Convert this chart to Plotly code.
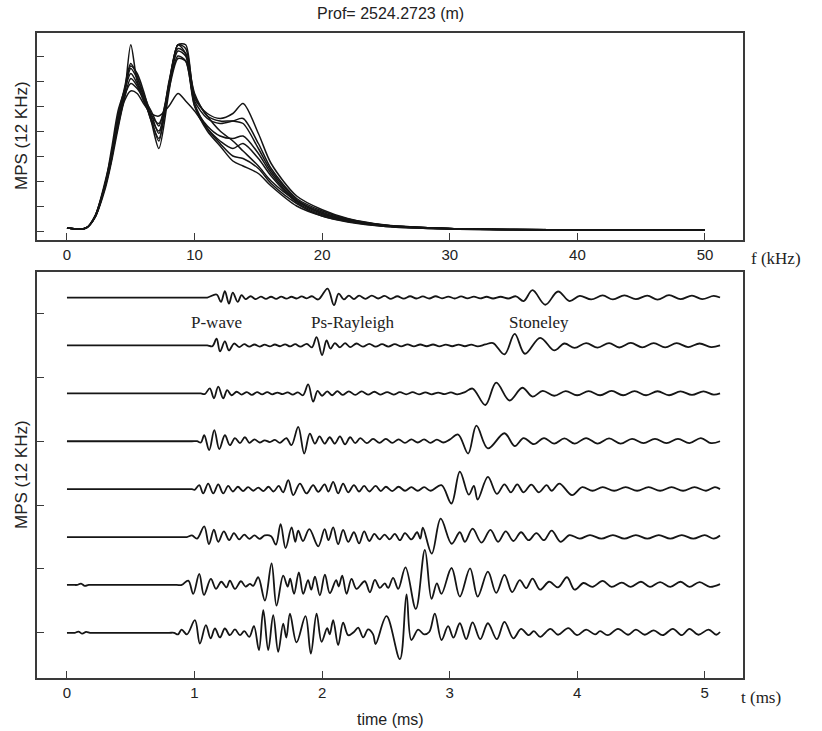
import plotly.graph_objects as go

# ---------------- data ----------------
freq_khz = [0, 1.5, 2.2, 3, 3.5, 4, 4.5, 5, 5.5, 6, 6.6, 7.2, 8, 8.7, 9.3, 10, 11, 12, 13,
            13.8, 15, 16, 18, 20, 22, 25, 30, 35, 40, 50]
spec_a = [0.12, 0.12, 0.6, 1.9, 3.0, 4.2, 5.4, 7.45, 6.0, 5.4, 4.4, 3.3, 5.6, 7.45, 7.3, 5.4, 4.6, 4.0, 3.6, 3.2, 2.6, 2.0, 1.2, 0.7, 0.45, 0.22, 0.1, 0.06, 0.05, 0.04]
spec_b = [0.12, 0.12, 0.55, 1.8, 2.9, 4.6, 5.6, 6.6, 6.3, 5.6, 4.5, 3.6, 5.9, 7.45, 7.45, 5.3, 4.7, 4.5, 4.7, 5.1, 3.9, 2.7, 1.4, 0.85, 0.5, 0.24, 0.1, 0.06, 0.05, 0.04]
spec_c = [0.12, 0.12, 0.6, 2.0, 3.1, 4.5, 5.5, 6.5, 6.1, 5.5, 4.7, 3.9, 5.8, 7.2, 7.0, 5.2, 4.5, 4.3, 4.4, 4.5, 3.5, 2.5, 1.3, 0.8, 0.48, 0.23, 0.1, 0.06, 0.05, 0.04]
spec_d = [0.12, 0.12, 0.55, 1.9, 3.3, 4.8, 5.6, 6.3, 5.9, 5.3, 4.8, 4.2, 5.9, 7.45, 7.1, 5.5, 4.6, 4.4, 4.4, 4.3, 3.3, 2.4, 1.25, 0.75, 0.45, 0.22, 0.1, 0.06, 0.05, 0.04]
spec_e = [0.12, 0.12, 0.6, 1.8, 2.9, 4.3, 5.3, 6.1, 5.8, 5.2, 4.6, 4.3, 5.7, 6.9, 6.8, 5.0, 4.2, 3.8, 3.7, 3.8, 3.1, 2.3, 1.2, 0.7, 0.42, 0.2, 0.09, 0.06, 0.05, 0.04]
spec_f = [0.12, 0.12, 0.55, 1.7, 2.8, 4.1, 5.2, 5.6, 5.5, 5.1, 4.7, 4.6, 5.0, 5.5, 5.2, 4.8, 4.1, 3.6, 3.3, 3.5, 2.9, 2.2, 1.15, 0.65, 0.4, 0.2, 0.09, 0.06, 0.05, 0.04]
spec_g = [0.12, 0.12, 0.6, 1.9, 3.0, 4.4, 5.4, 5.9, 5.7, 5.3, 4.5, 4.0, 5.8, 7.0, 6.8, 5.1, 4.1, 3.5, 3.0, 2.9, 2.5, 1.9, 1.1, 0.6, 0.38, 0.18, 0.08, 0.05, 0.04, 0.04]
spec_h = [0.12, 0.12, 0.55, 1.85, 3.1, 4.6, 5.7, 6.7, 6.2, 5.4, 4.4, 3.7, 6.0, 7.3, 7.1, 5.0, 4.0, 3.4, 2.8, 2.6, 2.3, 1.8, 1.0, 0.6, 0.36, 0.18, 0.08, 0.05, 0.04, 0.04]
spectra = [spec_a, spec_b, spec_c, spec_d, spec_e, spec_f, spec_g, spec_h]

# waveforms: (time ms, amplitude) read at extrema, top trace first
wave1 = [(0, 0), (0.3, 0), (0.6, 0), (0.9, 0), (1.05, 0), (1.10, 0), (1.173, 0.19), (1.207, -0.27), (1.238, 0.40), (1.27, -0.38), (1.30, 0.31), (1.338, -0.27),
         (1.369, 0.15), (1.40, -0.10), (1.44, 0.08), (1.48, -0.10), (1.52, 0.06), (1.56, -0.08), (1.60, 0.05), (1.64, -0.08),
         (1.68, 0.06), (1.72, -0.07), (1.76, 0.05), (1.80, -0.06), (1.84, 0.07), (1.88, -0.05), (1.92, 0.08), (1.97, -0.12),
         (2.043, 0.56), (2.093, -0.48), (2.13, 0.25), (2.17, -0.12), (2.21, 0.12), (2.25, -0.10), (2.29, 0.12), (2.34, -0.08),
         (2.39, 0.12), (2.44, -0.06), (2.49, 0.10), (2.54, -0.08), (2.59, 0.08), (2.64, -0.07), (2.69, 0.08), (2.74, -0.06),
         (2.79, 0.07), (2.84, -0.06), (2.89, 0.08), (2.94, -0.05), (2.99, 0.06), (3.04, -0.06), (3.09, 0.07), (3.14, -0.05),
         (3.19, 0.06), (3.24, -0.05), (3.29, 0.05), (3.34, -0.06), (3.40, 0.05), (3.46, -0.06), (3.52, 0.08), (3.58, -0.22),
         (3.65, 0.46), (3.75, -0.45), (3.85, 0.38), (3.94, -0.22), (4.02, 0.10), (4.11, -0.12), (4.20, 0.13), (4.28, -0.12),
         (4.37, 0.14), (4.46, -0.10), (4.55, 0.12), (4.63, -0.13), (4.72, 0.15), (4.81, -0.10), (4.90, 0.12), (4.98, -0.10),
         (5.07, 0.10), (5.12, 0)]
wave2 = [(0, 0), (0.3, 0), (0.6, 0), (0.9, 0), (1.06, 0), (1.10, 0), (1.14, -0.05), (1.173, 0.42), (1.20, -0.375), (1.238, 0.25), (1.27, -0.31), (1.31, 0.12),
         (1.35, -0.10), (1.39, 0.08), (1.43, -0.08), (1.47, 0.06), (1.51, -0.07), (1.55, 0.05), (1.59, -0.06), (1.63, 0.06),
         (1.67, -0.05), (1.71, 0.07), (1.75, -0.06), (1.79, 0.08), (1.83, -0.08), (1.88, 0.10), (1.92, -0.12), (1.957, 0.52),
         (2.0, -0.6), (2.035, 0.31), (2.066, -0.2), (2.10, 0.15), (2.14, -0.12), (2.18, 0.15), (2.22, -0.10), (2.27, 0.12),
         (2.32, -0.08), (2.37, 0.10), (2.42, -0.08), (2.47, 0.08), (2.52, -0.07), (2.57, 0.08), (2.62, -0.06), (2.67, 0.07),
         (2.72, -0.06), (2.77, 0.06), (2.82, -0.05), (2.87, 0.06), (2.92, -0.06), (2.97, 0.05), (3.02, -0.05), (3.07, 0.05),
         (3.12, -0.05), (3.17, 0.05), (3.22, -0.06), (3.28, 0.06), (3.34, 0.15), (3.43, -0.56), (3.51, 0.73), (3.59, -0.52),
         (3.71, 0.48), (3.82, -0.31), (3.90, 0.12), (3.98, -0.15), (4.07, 0.15), (4.16, -0.14), (4.25, 0.15), (4.33, -0.13),
         (4.42, 0.16), (4.51, -0.12), (4.60, 0.14), (4.69, -0.12), (4.78, 0.14), (4.87, -0.10), (4.96, 0.12), (5.05, -0.10),
         (5.12, 0)]
wave3 = [(0, 0), (0.3, 0), (0.6, 0), (0.9, 0), (1.01, 0), (1.05, 0), (1.08, -0.05), (1.12, 0.31), (1.152, -0.31), (1.186, 0.42), (1.225, -0.31), (1.256, 0.2),
         (1.29, -0.12), (1.33, 0.10), (1.37, -0.08), (1.41, 0.08), (1.45, -0.10), (1.49, 0.07), (1.53, -0.06), (1.57, 0.08),
         (1.61, -0.06), (1.65, 0.05), (1.69, -0.05), (1.73, 0.06), (1.77, -0.08), (1.81, 0.06), (1.85, -0.12), (1.891, 0.56),
         (1.93, -0.52), (1.965, 0.15), (2.0, -0.15), (2.04, 0.12), (2.08, -0.12), (2.12, 0.14), (2.16, -0.10), (2.21, 0.12),
         (2.26, -0.10), (2.31, 0.12), (2.36, -0.08), (2.41, 0.10), (2.46, -0.08), (2.51, 0.08), (2.56, -0.08), (2.61, 0.07),
         (2.66, -0.06), (2.71, 0.07), (2.76, -0.06), (2.81, 0.06), (2.86, -0.06), (2.91, 0.05), (2.96, -0.05), (3.01, 0.06),
         (3.06, -0.06), (3.12, 0.08), (3.18, 0.3), (3.28, -0.73), (3.365, 0.67), (3.47, -0.45), (3.57, 0.35), (3.65, -0.2),
         (3.73, 0.15), (3.82, -0.15), (3.91, 0.14), (4.0, -0.12), (4.09, 0.14), (4.18, -0.12), (4.27, 0.15), (4.36, -0.12),
         (4.45, 0.14), (4.54, -0.12), (4.63, 0.13), (4.72, -0.12), (4.81, 0.12), (4.90, -0.10), (4.99, 0.12), (5.07, -0.08),
         (5.12, 0)]
wave4 = [(0, 0), (0.3, 0), (0.6, 0), (0.85, 0), (0.98, 0), (1.02, 0), (1.05, -0.08), (1.076, 0.375), (1.115, -0.56), (1.155, 0.69), (1.194, -0.5), (1.238, 0.375),
         (1.277, -0.25), (1.317, 0.2), (1.356, -0.12), (1.395, 0.25), (1.43, -0.1), (1.47, 0.12), (1.51, -0.08), (1.55, 0.06),
         (1.59, -0.05), (1.63, 0.08), (1.67, -0.1), (1.72, 0.2), (1.76, -0.25), (1.813, 0.9), (1.86, -0.77), (1.904, 0.48),
         (1.944, -0.15), (1.98, 0.3), (2.02, -0.15), (2.06, 0.25), (2.10, -0.15), (2.14, 0.3), (2.18, -0.2), (2.22, 0.25),
         (2.26, -0.12), (2.30, 0.2), (2.35, -0.12), (2.40, 0.15), (2.45, -0.10), (2.50, 0.15), (2.55, -0.10), (2.60, 0.12),
         (2.65, -0.10), (2.70, 0.12), (2.75, -0.08), (2.80, 0.12), (2.85, -0.10), (2.90, 0.10), (2.95, -0.08), (3.0, 0.1),
         (3.067, 0.42), (3.145, -0.77), (3.21, 0.98), (3.30, -0.45), (3.43, 0.5), (3.51, -0.3), (3.58, 0.2), (3.66, -0.18),
         (3.74, 0.2), (3.82, -0.15), (3.90, 0.18), (3.98, -0.15), (4.07, 0.2), (4.16, -0.15), (4.25, 0.18), (4.34, -0.15),
         (4.43, 0.15), (4.52, -0.12), (4.61, 0.15), (4.70, -0.12), (4.79, 0.15), (4.88, -0.12), (4.97, 0.2), (5.05, -0.12),
         (5.12, 0)]
wave5 = [(0, 0), (0.3, 0), (0.6, 0), (0.82, 0), (0.94, 0), (0.98, 0), (1.0, -0.05), (1.037, 0.25), (1.068, -0.27), (1.107, 0.35), (1.147, -0.27), (1.186, 0.3),
         (1.225, -0.27), (1.264, 0.2), (1.30, -0.15), (1.34, 0.15), (1.38, -0.12), (1.42, 0.12), (1.46, -0.10), (1.50, 0.10),
         (1.54, -0.12), (1.58, 0.15), (1.62, -0.15), (1.66, 0.2), (1.695, -0.2), (1.735, 0.56), (1.774, -0.375), (1.826, 0.35),
         (1.878, -0.27), (1.93, 0.25), (1.97, -0.17), (2.02, 0.3), (2.05, -0.15), (2.087, 0.46), (2.126, -0.27), (2.165, 0.35),
         (2.205, -0.2), (2.25, 0.25), (2.29, -0.15), (2.33, 0.2), (2.37, -0.15), (2.42, 0.2), (2.46, -0.12), (2.50, 0.15),
         (2.55, -0.12), (2.60, 0.15), (2.65, -0.1), (2.70, 0.12), (2.75, -0.1), (2.80, 0.12), (2.85, -0.1), (2.936, 0.25),
         (3.014, -0.9), (3.08, 1.1), (3.15, -0.35), (3.19, 0.2), (3.22, -0.65), (3.30, 0.77), (3.37, -0.3), (3.43, 0.3),
         (3.48, -0.2), (3.53, 0.3), (3.58, -0.2), (3.64, 0.28), (3.70, -0.2), (3.76, 0.25), (3.80, -0.1), (3.86, 0.35),
         (3.96, -0.375), (4.04, 0.12), (4.12, -0.1), (4.20, 0.12), (4.29, -0.1), (4.38, 0.12), (4.47, -0.1), (4.56, 0.12),
         (4.65, -0.1), (4.74, 0.12), (4.83, -0.1), (4.92, 0.12), (5.01, -0.1), (5.08, 0.12), (5.12, 0)]
wave6 = [(0, 0), (0.3, 0), (0.6, 0), (0.8, 0), (0.9, 0), (0.94, 0), (0.98, 0.1), (1.02, -0.1), (1.076, 0.67), (1.113, -0.44), (1.152, 0.46), (1.186, -0.3),
         (1.23, 0.35), (1.272, -0.2), (1.309, 0.25), (1.35, -0.15), (1.39, 0.15), (1.43, -0.12), (1.47, 0.1), (1.51, -0.12),
         (1.55, 0.1), (1.60, 0.05), (1.638, -0.48), (1.675, 0.81), (1.714, -0.69), (1.761, 0.6), (1.79, -0.3), (1.813, 0.4),
         (1.85, -0.25), (1.90, 0.5), (1.97, -0.58), (2.02, 0.5), (2.05, -0.2), (2.087, 0.6), (2.126, -0.45), (2.165, 0.45),
         (2.205, -0.3), (2.25, 0.3), (2.29, -0.4), (2.33, 0.35), (2.37, -0.25), (2.41, 0.2), (2.45, -0.15), (2.49, 0.15),
         (2.53, -0.15), (2.57, 0.2), (2.61, -0.2), (2.65, 0.25), (2.70, -0.15), (2.745, 0.3), (2.77, -0.1), (2.79, 0.58),
         (2.86, -1.04), (2.93, 1.15), (3.016, -0.42), (3.08, 0.3), (3.12, -0.3), (3.18, 0.52), (3.25, -0.35), (3.32, 0.45),
         (3.38, -0.3), (3.44, 0.35), (3.50, -0.25), (3.56, 0.3), (3.62, -0.2), (3.68, 0.25), (3.74, -0.2), (3.80, 0.4),
         (3.87, -0.3), (3.94, 0.12), (4.02, -0.1), (4.1, 0.12), (4.19, -0.1), (4.28, 0.12), (4.37, -0.1), (4.46, 0.12),
         (4.55, -0.1), (4.64, 0.12), (4.73, -0.1), (4.82, 0.12), (4.91, -0.1), (5.0, 0.12), (5.07, -0.1), (5.12, 0.1)]
wave7 = [(0, 0), (0.05, 0), (0.08, 0), (0.11, 0.08), (0.14, -0.06), (0.17, 0), (0.2, 0), (0.45, 0), (0.7, 0), (0.86, 0), (0.90, 0), (0.951, 0.27), (0.99, -0.56), (1.037, 0.69),
         (1.074, -0.625), (1.128, 0.375), (1.168, -0.25), (1.21, 0.2), (1.251, -0.15), (1.277, 0.27), (1.317, -0.25),
         (1.364, 0.23), (1.40, -0.1), (1.434, 0.06), (1.46, -0.06), (1.499, 0.48), (1.552, -0.98), (1.604, 1.35),
         (1.643, -1.3), (1.695, 0.58), (1.73, -0.1), (1.75, 0.4), (1.78, -0.56), (1.818, 0.79), (1.852, -0.56), (1.89, 0.3),
         (1.915, -0.3), (1.944, 0.52), (1.983, -0.65), (2.022, 0.65), (2.061, -0.52), (2.11, 0.3), (2.13, -0.1), (2.158, 0.58),
         (2.192, -0.56), (2.231, 0.38), (2.27, -0.25), (2.335, 0.23), (2.375, -0.46), (2.414, 0.31), (2.453, -0.19),
         (2.492, 0.1), (2.518, -0.19), (2.557, 0.44), (2.597, -0.25), (2.654, 1.1), (2.735, -1.5), (2.806, 2.2),
         (2.858, -0.875), (2.90, 0.1), (2.936, -0.56), (3.015, 1.06), (3.08, -0.73), (3.16, 1.04), (3.22, -0.73), (3.30, 0.83),
         (3.365, -0.5), (3.43, 0.63), (3.49, -0.45), (3.55, 0.3), (3.60, -0.2), (3.65, 0.4), (3.71, -0.3), (3.78, 0.2),
         (3.85, -0.15), (3.92, 0.48), (3.98, -0.3), (4.05, 0.12), (4.12, -0.12), (4.20, 0.25), (4.27, -0.12), (4.35, 0.15),
         (4.42, -0.12), (4.50, 0.2), (4.57, -0.12), (4.65, 0.18), (4.73, -0.12), (4.81, 0.2), (4.88, -0.12), (4.96, 0.18),
         (5.04, -0.12), (5.12, 0.05)]
wave8 = [(0, 0), (0.03, 0), (0.06, 0), (0.09, 0.08), (0.12, -0.05), (0.15, 0.06), (0.18, 0), (0.21, 0), (0.45, 0), (0.7, 0), (0.80, 0), (0.84, 0), (0.87, -0.1), (0.899, 0.2),
         (0.94, -0.1), (1.003, 0.79), (1.042, -0.67), (1.089, 0.48), (1.126, -0.35), (1.16, 0.27), (1.199, -0.29),
         (1.238, 0.27), (1.277, -0.15), (1.317, 0.21), (1.356, -0.15), (1.39, 0.1), (1.429, -0.25), (1.466, 0.42),
         (1.505, -1.08), (1.539, 1.42), (1.578, -1.08), (1.617, 1.1), (1.656, -1.19), (1.695, 0.58), (1.72, -0.3),
         (1.748, 1.2), (1.80, -0.6), (1.87, 1.04), (1.912, -1.3), (1.957, 1.2), (1.996, -0.56), (2.04, 0.3), (2.06, -0.1),
         (2.087, 0.8), (2.126, -0.77), (2.165, 0.63), (2.205, -0.15), (2.25, 0.05), (2.283, 0.33), (2.322, -0.29),
         (2.361, 0.21), (2.40, -0.1), (2.42, -0.7), (2.505, 1.04), (2.61, -1.65), (2.662, 2.4), (2.70, -0.45), (2.753, 0.2),
         (2.80, -0.1), (2.84, 0.05), (2.884, 1.2), (2.936, -0.45), (2.988, 0.42), (3.03, -0.3), (3.08, 0.6), (3.13, -0.4),
         (3.18, 0.65), (3.24, -0.4), (3.30, 0.6), (3.37, -0.4), (3.43, 0.69), (3.50, -0.35), (3.56, 0.25), (3.62, -0.15),
         (3.66, 0.1), (3.71, -0.25), (3.79, 0.25), (3.85, -0.12), (3.93, 0.3), (4.0, -0.15), (4.07, 0.2), (4.14, -0.1),
         (4.18, 0.1), (4.24, -0.15), (4.32, 0.25), (4.40, -0.12), (4.46, 0.2), (4.53, -0.12), (4.6, 0.15), (4.67, -0.15),
         (4.75, 0.25), (4.82, -0.15), (4.88, 0.25), (4.95, -0.12), (5.03, 0.2), (5.09, -0.12), (5.12, 0.05)]
waves = [wave1, wave2, wave3, wave4, wave5, wave6, wave7, wave8]
trace_spacing = 3  # vertical offset between successive waveforms (axis units)

freq_ticks = [0, 10, 20, 30, 40, 50]
time_ticks = [0, 1, 2, 3, 4, 5]
wave_labels = [("P-wave", 1.17), ("Ps-Rayleigh", 2.24), ("Stoneley", 3.70)]

# ---------------- figure ----------------
fig = go.Figure()
LINE = "#151515"
for s in spectra:
    fig.add_trace(go.Scatter(x=freq_khz, y=s, mode="lines", xaxis="x", yaxis="y",
                             line=dict(color=LINE, width=1.5, shape="spline", smoothing=0.8),
                             showlegend=False, hoverinfo="skip"))
n = len(waves)
for i, w in enumerate(waves):
    off = trace_spacing * (n - 1 - i)
    fig.add_trace(go.Scatter(x=[p[0] for p in w], y=[p[1] + off for p in w], mode="lines",
                             xaxis="x2", yaxis="y2",
                             line=dict(color=LINE, width=1.8, shape="spline", smoothing=1.0),
                             showlegend=False, hoverinfo="skip"))

AX = "#3a3a3a"
tickfont = dict(family="Liberation Sans Narrow, Liberation Sans, Arial", size=15, color="#222")
common = dict(showline=True, linecolor=AX, linewidth=2, mirror=True, showgrid=False, zeroline=False,
              ticks="inside", ticklen=7, tickwidth=1.3, tickcolor=AX)

L, R, T, B = 37, 743, 33, 678
H = B - T
fig.update_layout(
    width=822, height=731,
    margin=dict(l=L, r=822 - R, t=T, b=731 - B),
    plot_bgcolor="white", paper_bgcolor="white",
    xaxis=dict(domain=[0, 1], anchor="y", range=[-2.35, 52.98], tickvals=freq_ticks,
               tickfont=tickfont, **common),
    yaxis=dict(domain=[(B - 240) / H, 1], anchor="x", range=[-0.36, 7.92], tickvals=list(range(8)),
               showticklabels=False, **common),
    xaxis2=dict(domain=[0, 1], anchor="y2", range=[-0.235, 5.30], tickvals=time_ticks,
                tickfont=tickfont, **common),
    yaxis2=dict(domain=[0, (B - 272) / H], anchor="x2", range=[-2.83, 22.6], tickvals=[0, 4, 8, 12, 16, 20],
                showticklabels=False, **common),
)

sans = dict(family="Liberation Sans Narrow, Liberation Sans, Arial", size=16, color="#222")
serif = dict(family="Liberation Serif, Times New Roman", size=17, color="#222")


def px(xp):
    return (xp - L) / (R - L)


def py(yp):
    return (B - yp) / H


anns = [
    dict(text="Prof= 2524.2723 (m)", x=0.5, y=py(14), font=sans),
    dict(text="f (kHz)", x=px(776), y=py(258), font=serif),
    dict(text="t (ms)", x=px(761), y=py(697), font=serif),
    dict(text="time (ms)", x=0.5, y=py(719), font=sans),
    dict(text="MPS (12 KHz)", x=px(21), y=py(136), font=dict(sans, size=17), textangle=-90),
    dict(text="MPS (12 KHz)", x=px(21), y=py(475), font=dict(sans, size=17), textangle=-90),
]
for a in anns:
    a.update(xref="paper", yref="paper", showarrow=False, xanchor="center", yanchor="middle")
    fig.add_annotation(**a)
for txt, tpos in wave_labels:
    fig.add_annotation(text=txt, x=tpos, y=19.45, xref="x2", yref="y2", showarrow=False,
                       xanchor="center", yanchor="middle", font=serif)

fig.write_html("out.html")
